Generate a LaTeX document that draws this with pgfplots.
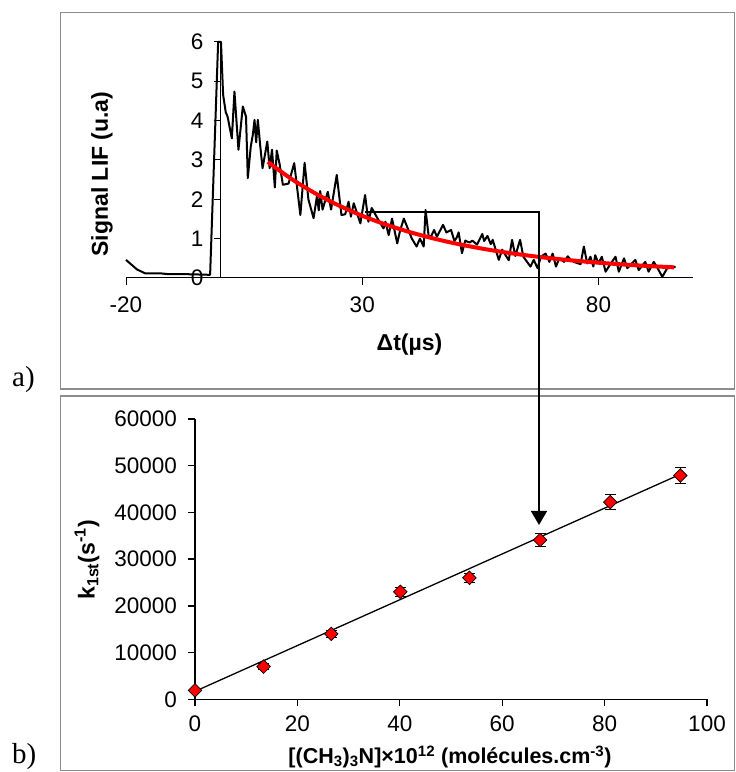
\documentclass[border=0pt]{standalone}
\usepackage{pgfplots}
\pgfplotsset{compat=1.18}
\usetikzlibrary{arrows.meta}
\usepackage{fontspec}
\setmainfont{Liberation Sans}
\newfontfamily\seriffont{Liberation Serif}
\definecolor{framegray}{HTML}{8C8C8C}
\pgfplotsset{
  noarrows/.style={
    every inner x axis line/.append style={-},
    every outer x axis line/.append style={-},
    every inner y axis line/.append style={-},
    every outer y axis line/.append style={-},
  }
}
\begin{document}
\begin{tikzpicture}[x=1bp,y=1bp]
\useasboundingbox (0,0) rectangle (736,772);
\draw[framegray, line width=1.5bp] (60.7,759.3) rectangle (734.5,383);
\draw[framegray, line width=1.5bp] (60.7,376) rectangle (734.5,1.5);
\node[font=\seriffont\fontsize{29bp}{32bp}\selectfont, anchor=base west, inner sep=0pt] at (12,385) {a)};
\node[font=\seriffont\fontsize{29bp}{32bp}\selectfont, anchor=base west, inner sep=0pt] at (12,8) {b)};

% ---------------- top panel ----------------
\begin{axis}[
  at={(126bp,494bp)}, anchor=south west,
  scale only axis, width=567bp, height=236bp,
  xmin=-20, xmax=100, ymin=0, ymax=6,
  axis x line=bottom, axis y line=middle,
  hide obscured x ticks=false, hide obscured y ticks=false,
  noarrows,
  axis line style={black, line width=1bp},
  tick align=outside, major tick length=7bp,
  tick style={black, line width=1bp},
  xtick={-20,30,80}, xticklabels={-20,30,80},
  ytick={0,1,2,3,4,5,6},
  /pgf/number format/assume math mode=true,
  ticklabel style={font=\fontsize{22.5bp}{26bp}\selectfont},
  yticklabel style={xshift=-6.5bp},
  xticklabel style={yshift=-8.5bp},
  xlabel={\textbf{Δt(µs)}},
  ylabel={\textbf{Signal LIF (u.a)}},
  every axis x label/.style={at={(axis description cs:0.5,-0.28)}, anchor=center, font=\fontsize{23bp}{27bp}\selectfont},
  every axis y label/.style={at={(axis description cs:-0.0423,0.4407)}, anchor=center, rotate=90, font=\fontsize{23bp}{27bp}\selectfont},
  clip=false,
]
\addplot[black, line width=2bp, line join=round] coordinates {
(-20,0.46) (-17.7,0.22) (-16,0.12) (-12.9,0.12) (-11.2,0.10) (-8.3,0.10) (-5,0.09) (-2.2,0.08)
(-0.5,6.0) (0.1,6.0) (0.55,4.66) (1.1,4.22) (1.5,4.1) (2.4,3.55) (2.95,4.74) (3.8,3.26)
(4.72,4.36) (5.4,4.1) (5.78,2.54) (6.4,3.34) (6.84,3.64) (7.2,4.02) (7.55,3.45) (7.9,4.02)
(8.4,3.37) (8.9,2.79) (9.9,3.47) (10.4,2.79) (10.9,3.26) (11.5,2.30) (11.9,3.24) (12.5,2.9)
(13.2,2.37) (14.4,2.40) (15.6,2.92) (16.9,1.60) (17.8,2.93) (18.6,2.0) (19.7,1.52) (20.4,2.07)
(20.8,1.72) (21.1,2.21) (21.6,1.74) (22.7,2.19) (23.4,1.74) (24.6,2.62) (25.6,1.60) (26.4,1.62)
(27.1,1.94) (27.6,1.56) (28.2,1.90) (29.6,1.39) (30.6,2.11) (31.3,1.43) (32.0,1.78) (33.4,1.48)
(34.5,1.26) (34.9,1.43) (35.6,1.09) (36.3,1.51) (37.4,0.88) (38.0,1.2) (38.8,1.51) (39.5,1.3)
(40.5,1.0) (41.5,0.80) (42.2,1.0) (43.0,0.80) (43.4,1.73) (44.1,1.02) (44.7,1.09) (45.2,1.22)
(45.8,1.05) (47.1,1.35) (47.8,1.16) (48.8,1.22) (49.5,0.94) (50.0,1.03) (50.4,1.16) (51.1,0.63)
(51.8,0.95) (52.7,0.90) (53.3,0.95) (54.3,0.85) (55.4,1.12) (55.8,0.94) (56.5,1.07) (57.2,0.86)
(57.6,0.97) (58.9,0.46) (59.6,0.72) (61.0,0.45) (61.7,0.97) (62.4,0.56) (63.4,0.97) (64.1,0.54)
(65.6,0.29) (66.3,0.46) (67.1,0.25) (67.8,0.54) (68.8,0.62) (69.6,0.41) (70.3,0.62) (71.0,0.29)
(71.7,0.50) (72.7,0.41) (73.5,0.55) (74.2,0.45) (75.0,0.40) (76.2,0.35) (76.9,0.80) (77.6,0.37)
(78.3,0.54) (78.9,0.29) (79.3,0.58) (80.0,0.37) (80.7,0.54) (81.5,0.16) (82.5,0.35) (83.6,0.54)
(84.3,0.16) (85.4,0.50) (86.1,0.25) (87.8,0.46) (88.5,0.20) (89.9,0.41) (90.6,0.16) (91.7,0.41)
(92.5,0.25) (93.5,0.03) (94.5,0.24) (95.5,0.28) (96.3,0.28)
};
\addplot[red, line width=4bp, smooth] coordinates {
(10,2.95) (15,2.52) (20,2.155) (25,1.845) (30,1.582) (35,1.358) (40,1.169) (45,1.007)
(50,0.870) (55,0.754) (60,0.656) (65,0.572) (70,0.501) (75,0.440) (80,0.389) (85,0.345)
(90,0.308) (96,0.271)
};
\end{axis}

% ---------------- bottom panel ----------------
\begin{axis}[
  at={(195bp,72.7bp)}, anchor=south west,
  scale only axis, width=512bp, height=280.3bp,
  xmin=0, xmax=100, ymin=0, ymax=60000,
  axis lines=left, noarrows,
  axis line style={black, line width=1.3bp},
  tick align=outside, major tick length=7bp,
  tick style={black, line width=1.3bp},
  xtick={0,20,40,60,80,100},
  ytick={0,10000,20000,30000,40000,50000,60000},
  scaled y ticks=false, scaled x ticks=false,
  /pgf/number format/1000 sep={},
  /pgf/number format/assume math mode=true,
  ticklabel style={font=\fontsize{22.5bp}{26bp}\selectfont},
  yticklabel style={xshift=-7.5bp},
  xticklabel style={yshift=-6.4bp},
  xlabel={\textbf{[(CH\textsubscript{3})\textsubscript{3}N]×10\textsuperscript{12} (molécules.cm\textsuperscript{-3})}},
  ylabel={\textbf{k\textsubscript{1st}(s\textsuperscript{-1})}},
  every axis x label/.style={at={(axis description cs:0.498,-0.205)}, anchor=center, font=\fontsize{21.5bp}{25bp}\selectfont},
  every axis y label/.style={at={(axis description cs:-0.211,0.497)}, anchor=center, rotate=90, font=\fontsize{23bp}{27bp}\selectfont},
  clip=false,
]
\addplot[only marks, mark=square*, mark size=4.8bp,
  mark options={rotate=45, fill=red, draw=black, line width=0.7bp},
  error bars/.cd, y dir=both, y explicit,
  error bar style={black, line width=1bp},
  error mark options={black, rotate=90, mark size=5.5bp, line width=1bp}]
coordinates {
(0,1900) +- (0,300)
(13.4,7000) +- (0,700)
(26.6,14000) +- (0,700)
(40.1,23000) +- (0,900)
(53.6,26000) +- (0,1000)
(67.4,34100) +- (0,1350)
(81.1,42200) +- (0,1600)
(94.8,47900) +- (0,1800)
};
\addplot[black, line width=1.3bp] coordinates {(0,1700) (95,48270)};
\end{axis}

\draw[black, line width=1.6bp, -{Triangle[width=16bp,length=14bp]}] (365,560) -- (539,560) -- (539,247);
\end{tikzpicture}
\end{document}
